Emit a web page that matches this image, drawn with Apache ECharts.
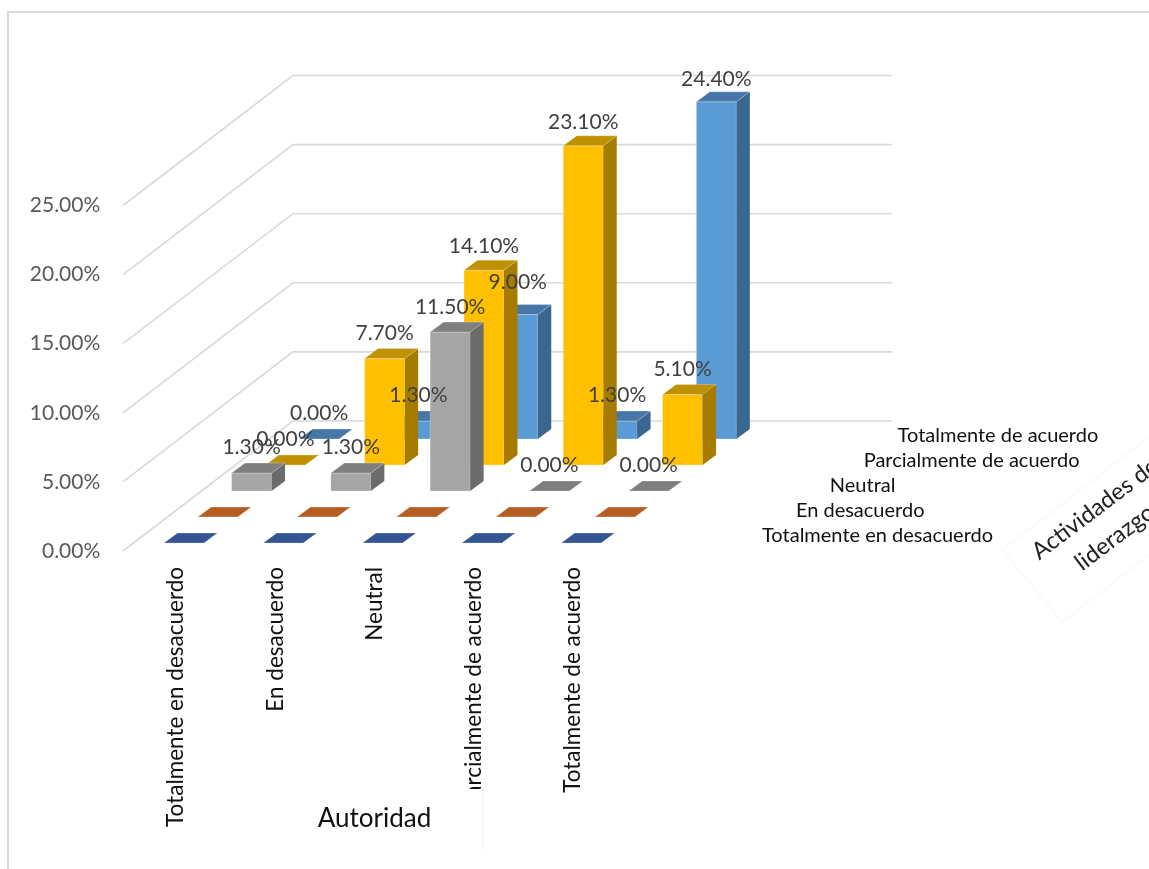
<!DOCTYPE html>
<html><head><meta charset="utf-8">
<style>html,body{margin:0;padding:0;background:#fff}#c{width:1149px;height:869px}</style>
<script src="https://cdn.jsdelivr.net/npm/echarts@6/dist/echarts.min.js"></script>
</head><body><div id="c"></div>
<script>
const categories = ["Totalmente en desacuerdo","En desacuerdo","Neutral","Parcialmente de acuerdo","Totalmente de acuerdo"];
const seriesNames = ["Totalmente en desacuerdo","En desacuerdo","Neutral","Parcialmente de acuerdo","Totalmente de acuerdo"];
const totalDesacuerdo = [0,0,0,0,0];
const enDesacuerdo = [0,0,0,0,0];
const neutral = [1.3,1.3,11.5,0,0];
const parcialAcuerdo = [0,7.7,14.1,23.1,5.1];
const totalAcuerdo = [0,1.3,9.0,1.3,24.4];
const valueTicks = [0,5,10,15,20,25];
const axisTitle = "Autoridad";
const depthTitleLines = ["Actividades de","liderazgo"];
const rows = [totalDesacuerdo,enDesacuerdo,neutral,parcialAcuerdo,totalAcuerdo];
const showLabels = [false,false,true,true,true];
const palette = [
 {front:'#2F5597',top:'#335593',side:'#264478'},
 {front:'#C55A11',top:'#B55E23',side:'#843C0C'},
 {front:'#A5A5A5',top:'#7F7F7F',side:'#6B6B6B'},
 {front:'#FFC000',top:'#BF9000',side:'#A67C00'},
 {front:'#5B9BD5',top:'#4677A8',side:'#3A668F'}
];
const FONT='Lato';
const ROW_DX=33.8, ROW_DY=26, BAR_W=40, D_X=13.5, D_Y=10, BAR_X0=-12, BAR_Y0=-8;

function barRender(r){
  const c=palette[r];
  return function(params,api){
    const cat=api.value(0), v=api.value(1);
    const b=api.coord([cat,0]), t=api.coord([cat,v]);
    const x=b[0]+BAR_X0+r*ROW_DX, y0=b[1]+BAR_Y0-r*ROW_DY, h=b[1]-t[1], y1=y0-h;
    const kids=[];
    if(h>0){
      kids.push({type:'polygon',shape:{points:[[x,y0],[x+BAR_W,y0],[x+BAR_W,y1],[x,y1]]},style:{fill:c.front,stroke:'rgba(255,255,255,0.25)',lineWidth:1}});
      kids.push({type:'polygon',shape:{points:[[x+BAR_W,y0],[x+BAR_W+D_X,y0-D_Y],[x+BAR_W+D_X,y1-D_Y],[x+BAR_W,y1]]},style:{fill:c.side}});
    }
    kids.push({type:'polygon',shape:{points:[[x,y1],[x+BAR_W,y1],[x+BAR_W+D_X,y1-D_Y],[x+D_X,y1-D_Y]]},style:{fill:c.top,stroke:'rgba(255,255,255,0.25)',lineWidth:1}});
    return {type:'group',children:kids};
  };
}
function labelRender(r){
  return function(params,api){
    const cat=api.value(0), v=api.value(1);
    const b=api.coord([cat,0]), t=api.coord([cat,v]);
    const h=b[1]-t[1];
    const lift=(r===4&&cat===2)?32:26-3*h/338;
    const x=b[0]+BAR_X0+r*ROW_DX+20, y=b[1]+BAR_Y0-r*ROW_DY-h-lift;
    return {type:'text',style:{x:x,y:y,text:v.toFixed(2)+'%',fill:'#404040',font:'21px '+FONT,align:'center',verticalAlign:'middle'}};
  };
}
function wallRender(params,api){
  const v=api.value(0);
  const p=api.coord([0,v]), q=api.coord([4,v]);
  return {type:'polyline',shape:{points:[[p[0]-53,p[1]],[p[0]+117,p[1]-130],[q[0]+319,q[1]-130]]},
    style:{fill:null,stroke:'#D9D9D9',lineWidth:1.6}};
}
const series=[{type:'custom',name:'wall',renderItem:wallRender,silent:true,z:1,encode:{y:0},data:valueTicks.map(v=>[v])}];
for(let r=rows.length-1;r>=0;r--){
  series.push({type:'custom',name:seriesNames[r],renderItem:barRender(r),z:2+(rows.length-1-r),encode:{x:0,y:1},
    data:rows[r].map((v,i)=>[i,v])});
  if(showLabels[r]) series.push({type:'custom',name:seriesNames[r]+' labels',renderItem:labelRender(r),z:20,silent:true,encode:{x:0,y:1},
    data:rows[r].map((v,i)=>[i,v])});
}
const graphic=[
 {type:'polyline',shape:{points:[[8,869],[8,12],[1149,12]]},style:{fill:null,stroke:'#D9D9D9',lineWidth:2},z:0},
 {type:'rect',shape:{x:440,y:789,width:43,height:62},style:{fill:'#fff'},z:30},
 {type:'line',shape:{x1:483,y1:789,x2:483,y2:851},style:{stroke:'#F4F4F4',lineWidth:1},z:30},
 {type:'polyline',shape:{points:[[1149,437],[1002,550],[1062,622],[1149,555]]},style:{fill:null,stroke:'#FAFAFA',lineWidth:2},z:1}
];
seriesNames.forEach((n,i)=>{
  graphic.push({type:'text',x:762+33.9*i,y:536-25*i,style:{text:n,fill:'#111',font:'20px '+FONT,align:'left',verticalAlign:'middle'},z:25});
});
const rot=37*Math.PI/180;
graphic.push({type:'text',x:1042,y:564,rotation:rot,style:{text:depthTitleLines[0],fill:'#222',font:'23.5px '+FONT,align:'left',verticalAlign:'bottom'},z:25});
graphic.push({type:'text',x:1085,y:575,rotation:rot,style:{text:depthTitleLines[1],fill:'#222',font:'23.5px '+FONT,align:'left',verticalAlign:'bottom'},z:25});
const chart=echarts.init(document.getElementById('c'),null,{renderer:'canvas'});
chart.setOption({
  animation:false,backgroundColor:'#fff',
  grid:{left:126.3,width:496.5,top:205.5,height:345.5,containLabel:false},
  xAxis:{type:'category',data:categories,axisLine:{show:false},axisTick:{show:false},splitLine:{show:false},
    axisLabel:{rotate:90,interval:0,margin:16,color:'#111',fontFamily:FONT,fontSize:22.5},
    name:axisTitle,nameLocation:'middle',nameGap:255,nameMoveOverlap:false,nameTextStyle:{color:'#111',fontFamily:FONT,fontSize:26}},
  yAxis:{type:'value',min:0,max:25,interval:5,axisLine:{show:false},axisTick:{show:false},splitLine:{show:false},
    axisLabel:{margin:26,color:'#595959',fontFamily:FONT,fontSize:21,formatter:v=>v.toFixed(2)+'%'}},
  graphic:graphic,
  series:series
});
</script></body></html>
